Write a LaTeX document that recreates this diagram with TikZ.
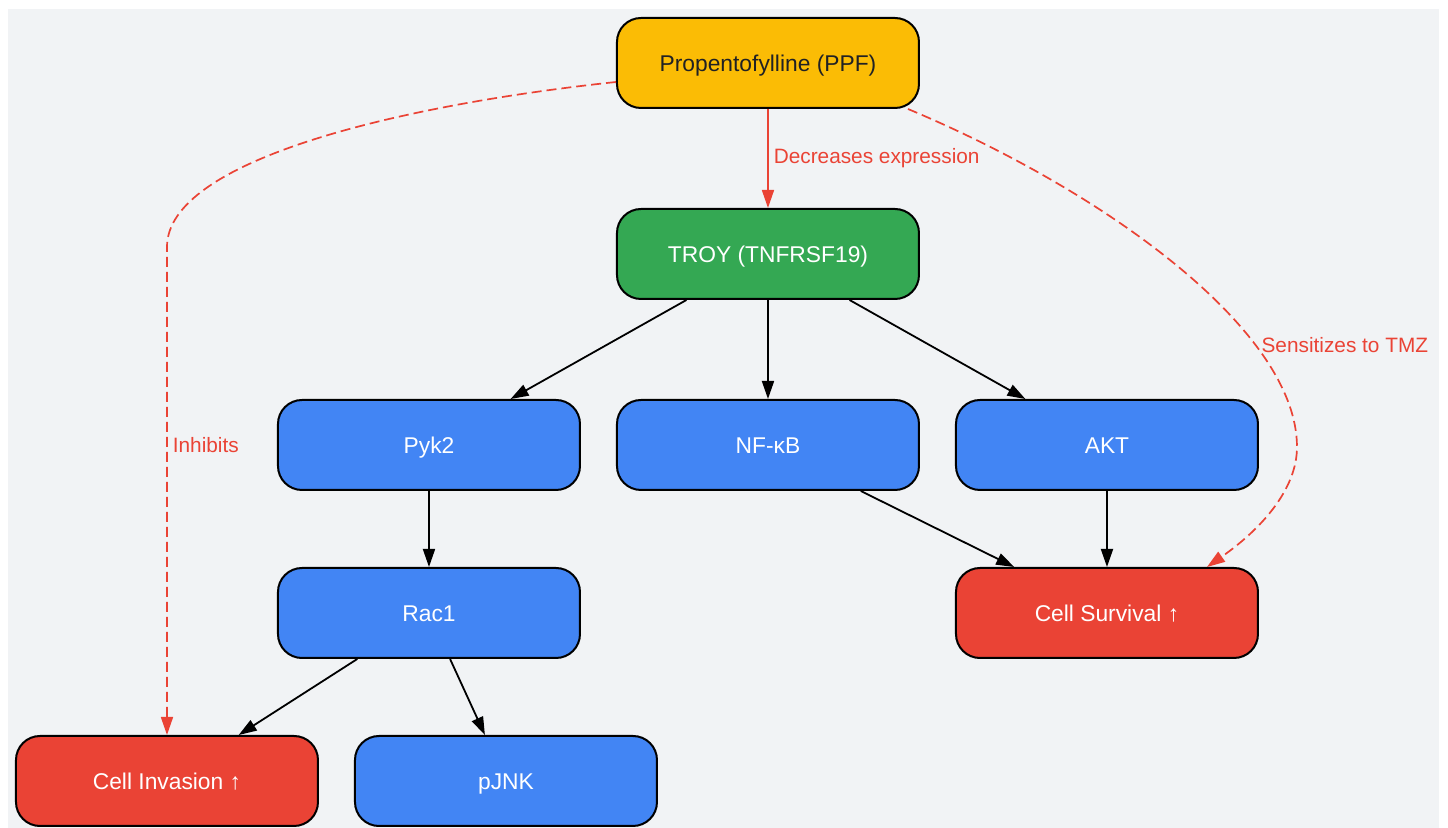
\documentclass[tikz,border=0pt]{standalone}
\usepackage{fontspec}
\setmainfont{Liberation Sans}
\usepackage{tikz}
\usetikzlibrary{arrows.meta,positioning}
\definecolor{ppfyellow}{HTML}{FBBC05}
\definecolor{troygreen}{HTML}{34A853}
\definecolor{pathblue}{HTML}{4285F4}
\definecolor{outred}{HTML}{EA4335}
\definecolor{bggray}{HTML}{F1F3F5}
\definecolor{darktext}{HTML}{202124}

\begin{document}
\begin{tikzpicture}
  [%
 term/.style={
  rectangle,
 rounded corners=12pt,
  minimum width=151pt,
  minimum height=45pt,
  inner sep=0pt,
  line width=1pt, % border
 draw=black,
 text=white,
    text height=8.2pt,
    text depth=0pt,
 font=\fontsize{11.4}{13.7}\selectfont},
 drug/.style={term, fill=ppfyellow, text=darktext},
 receptor/.style={term, fill=troygreen},
 signal/.style={term, fill=pathblue},
 outcome/.style={term, fill=outred},
 lbl/.style={text=outred, inner sep=2.5pt, font=\fontsize{10.4}{12.5}\selectfont},
tip/.style={-{Triangle[length=9pt,width=6pt]}, line width=0.9pt},
redtip/.style={tip, draw=outred, line width=0.8pt},
dashtip/.style={redtip, line width=0.85pt, dash pattern=on 5pt off 2.5pt}]
\useasboundingbox (-384pt,31.5pt) rectangle (340pt,-382.5pt);
\fill[bggray] (-380pt,27pt) rectangle (335.5pt,-382.5pt);
\node (ppf) [drug] {Propentofylline (PPF)};
\node (troy) [receptor, below=49.5pt of ppf] {TROY (TNFRSF19)};
\node (nfkb) [signal, below=49.5pt of troy] {NF-κB};
\node (pyk2) [signal, left=17.5pt of nfkb] {Pyk2};
\node (akt) [signal, right=17.5pt of nfkb] {AKT};
\node (rac1) [signal, below=38pt of pyk2] {Rac1};
\node (survival) [outcome, below=38pt of akt] {Cell Survival ↑};
\node (pjnk) [signal, below=38pt of rac1, xshift=38.5pt] {pJNK};
\node (invasion) [outcome, left=17.5pt of pjnk] {Cell Invasion ↑};
\path (troy)  edge[tip] (pyk2) ;
\path (troy)  edge[tip] (nfkb) ;
\path (troy)  edge[tip] (akt) ;
\path (pyk2)  edge[tip] (rac1) ;
\path (nfkb)  edge[tip] (survival) ;
\path (akt)  edge[tip] (survival) ;
\path (rac1)  edge[tip] (invasion) ;
\path (rac1)  edge[tip] (pjnk) ;
\path (ppf)  edge[redtip] node[lbl, right] (decLbl) {Decreases expression} (troy) ;
% dashed effects of PPF
\coordinate (invbend) at (invasion.north |- 0pt,-92pt);
\coordinate (survbend) at (264.5pt,-192pt);
\draw[dashtip] ([yshift=-9.5pt]ppf.west) .. controls (-184pt,-21pt) and (-300.5pt,-48.5pt) .. (invbend)
 -- node[lbl, pos=0.405, right] (inhLbl) {Inhibits} (invasion.north);
\draw[dashtip] ([xshift=-6pt]ppf.south east) .. controls (168pt,-64pt) and (264.5pt,-133.5pt) .. (survbend)
 node[lbl, pos=0.72, anchor=west] (tmzLbl) {Sensitizes to TMZ}
 .. controls (264.5pt,-213.5pt) and (246pt,-233.5pt) .. ([xshift=50pt]survival.north);
\end{tikzpicture}
\end{document}
